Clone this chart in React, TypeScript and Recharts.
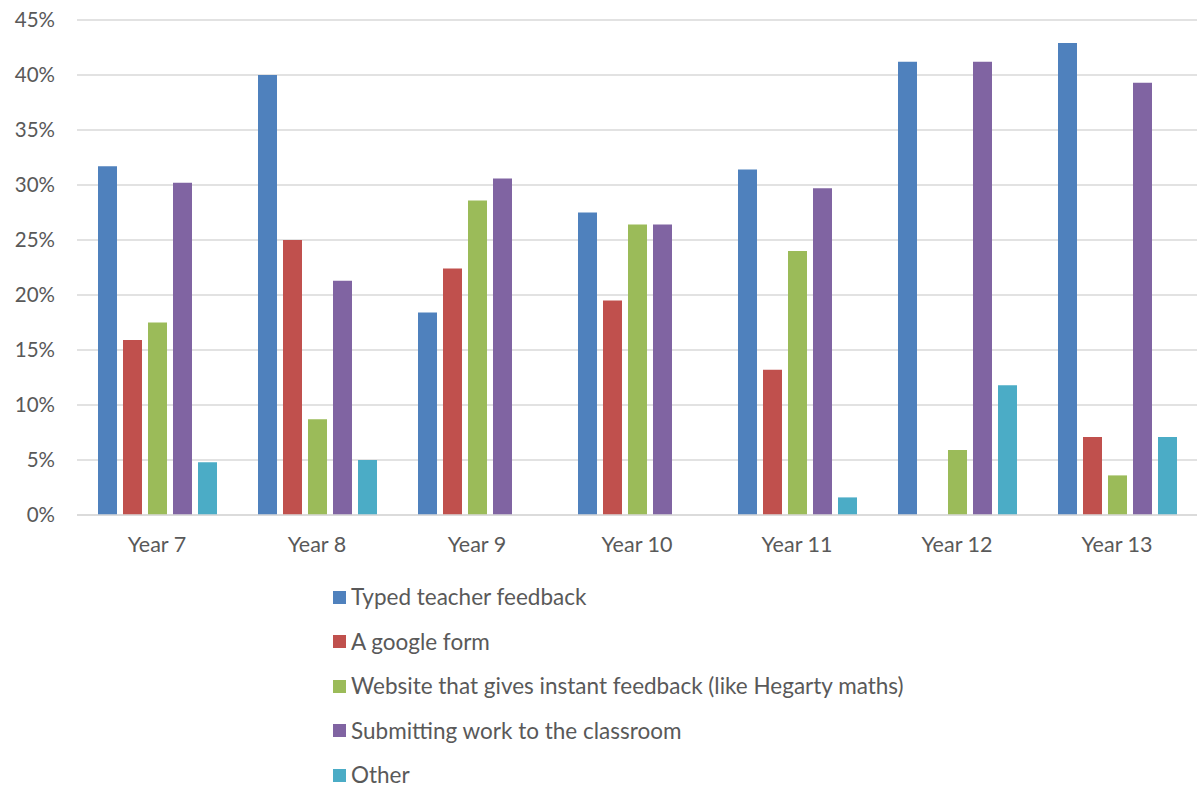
import { BarChart, Bar, XAxis, YAxis, CartesianGrid, Legend } from 'recharts';

const years = ['Year 7', 'Year 8', 'Year 9', 'Year 10', 'Year 11', 'Year 12', 'Year 13'];

const typed = [31.7, 40.0, 18.4, 27.5, 31.4, 41.2, 42.9];
const googleForm = [15.9, 25.0, 22.4, 19.5, 13.2, 0, 7.1];
const website = [17.5, 8.7, 28.6, 26.4, 24.0, 5.9, 3.6];
const submitting = [30.2, 21.3, 30.6, 26.4, 29.7, 41.2, 39.3];
const other = [4.8, 5.0, 0, 0, 1.6, 11.8, 7.1];

const yTicks = [0, 5, 10, 15, 20, 25, 30, 35, 40, 45];

const series = [
  { key: 'typed', name: 'Typed teacher feedback', color: '#4F81BD', values: typed },
  { key: 'googleForm', name: 'A google form', color: '#C0504D', values: googleForm },
  { key: 'website', name: 'Website that gives instant feedback (like Hegarty maths)', color: '#9BBB59', values: website },
  { key: 'submitting', name: 'Submitting work to the classroom', color: '#8064A2', values: submitting },
  { key: 'other', name: 'Other', color: '#4BACC6', values: other },
];

const data = years.map((year, i) => {
  const row: Record<string, string | number> = { year };
  series.forEach((s) => {
    row[s.key] = s.values[i];
  });
  return row;
});

const FONT = 'Lato, "Open Sans", sans-serif';
const TEXT = '#595959';

function LegendList() {
  return (
    <div style={{ display: 'flex', flexDirection: 'column', gap: 24.5, paddingTop: 22, height: 200 }}>
      {series.map((s) => (
        <div key={s.key} style={{ display: 'flex', alignItems: 'center', height: 20 }}>
          <span style={{ width: 13, height: 13, background: s.color, marginRight: 5, display: 'inline-block' }} />
          <span style={{ fontFamily: FONT, fontSize: 22.5, color: TEXT, lineHeight: '20px' }}>{s.name}</span>
        </div>
      ))}
    </div>
  );
}

export default function App() {
  return (
    <div style={{ position: 'absolute', left: 0, top: 0, width: 1200, height: 789, background: '#fff' }}>
      <BarChart
        width={1200}
        height={789}
        data={data}
        margin={{ top: 20, right: 3, bottom: 0, left: 0 }}
        barSize={19}
        barGap={6}
      >
        <CartesianGrid vertical={false} stroke="#D9D9D9" strokeWidth={1.5} />
        <XAxis
          dataKey="year"
          height={50}
          axisLine={{ stroke: '#D9D9D9', strokeWidth: 1.5 }}
          tickLine={false}
          tickMargin={16}
          tick={{ fill: TEXT, fontSize: 21.5, fontFamily: FONT }}
        />
        <YAxis
          width={77}
          domain={[0, 45]}
          ticks={yTicks}
          interval={0}
          axisLine={false}
          tickLine={false}
          tickMargin={16}
          tickFormatter={(v: number) => `${v}%`}
          tick={{ fill: TEXT, fontSize: 20.5, fontFamily: FONT }}
        />
        <Legend
          verticalAlign="bottom"
          align="left"
          layout="horizontal"
          wrapperStyle={{ left: 333, width: 700, height: 224 }}
          content={() => <LegendList />}
        />
        {series.map((s) => (
          <Bar key={s.key} dataKey={s.key} name={s.name} fill={s.color} isAnimationActive={false} />
        ))}
      </BarChart>
    </div>
  );
}
